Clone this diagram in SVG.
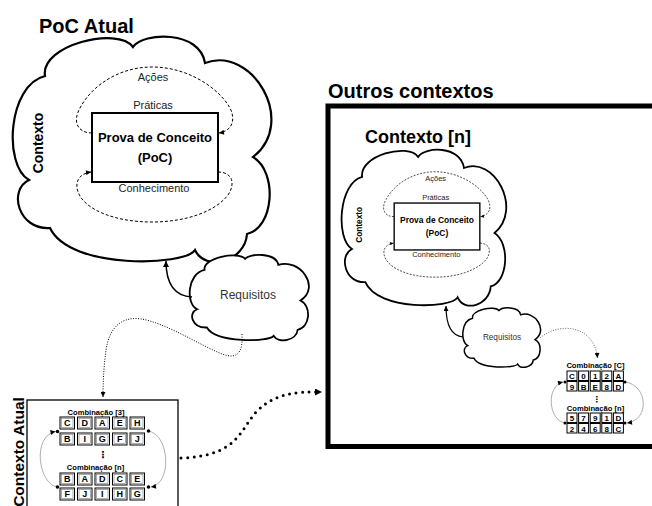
<svg xmlns="http://www.w3.org/2000/svg" width="652" height="506" viewBox="0 0 652 506">
  <style>
    text { font-family: "Liberation Sans", Arial, sans-serif; fill: #000; }
    .title { font-size: 20px; font-weight: bold; }
    .cloud { fill: #fff; stroke: #000; }
    .poc-box { fill: #fff; stroke: #000; stroke-width: 2; }
    .loop { fill: none; stroke: #000; stroke-width: 1; stroke-dasharray: 3 2; }
    .loop-lbl { font-size: 11px; fill: #222; text-anchor: middle; }
    .poc-lbl { font-size: 13px; font-weight: bold; text-anchor: middle; }
    .ctx-lbl { font-size: 14px; font-weight: bold; text-anchor: middle; }
    .req-lbl { font-size: 12px; fill: #333; text-anchor: middle; }
    .frame-thin { fill: #fff; stroke: #000; stroke-width: 1.3; }
    .frame-bold { fill: none; stroke: #000; stroke-width: 5; }
    .comb { font-size: 7.6px; font-weight: bold; text-anchor: middle; }
    .cell { fill: #fff; stroke: #000; stroke-width: 1; }
    .cell-in { fill: none; stroke: #777; stroke-width: 0.6; }
    .cell-a { font-size: 9px; font-weight: bold; text-anchor: middle; }
    .cell-b { font-size: 8px; font-weight: bold; text-anchor: middle; }
    .vdots { font-family: "DejaVu Sans", sans-serif; font-size: 10px; font-weight: bold; text-anchor: middle; }
    .link { fill: none; stroke: #000; stroke-width: 1.5; }
    .dotted-thin { fill: none; stroke: #000; stroke-width: 1; stroke-dasharray: 1 1.5; }
    .dotted-bold { fill: none; stroke: #000; stroke-width: 3; stroke-dasharray: 0 6.6; stroke-linecap: round; }
    .cycle { fill: none; stroke: #9a9a9a; stroke-width: 0.8; }
    .pin { fill: #000; }
  </style>
  <defs>
    <!-- eight-lobed cloud outline, laid out at the size of the large context cloud -->
    <path id="cloudShape" vector-effect="non-scaling-stroke"
          d="M 45 76 C 40 45 118 26 133 47 C 143 32 200 30 205 63 C 252 45 298 122 253 157 C 278 172 274 228 247 234 C 245 262 205 272 195 250 C 185 266 70 270 50 228 C 18 230 8 190 29 180 C 3 165 8 85 45 76 Z"/>
    <marker id="arrowSolid" viewBox="0 0 10 10" refX="10" refY="5" markerWidth="8" markerHeight="6" orient="auto" markerUnits="userSpaceOnUse">
      <path d="M0,0 L10,5 L0,10 z" fill="#000"/>
    </marker>
    <marker id="arrowLoop" viewBox="0 0 10 10" refX="10" refY="5" markerWidth="7" markerHeight="5" orient="auto" markerUnits="userSpaceOnUse">
      <path d="M0,0 L10,5 L0,10 z" fill="#000"/>
    </marker>
    <marker id="arrowBold" viewBox="0 0 10 10" refX="10" refY="5" markerWidth="9" markerHeight="7" orient="auto" markerUnits="userSpaceOnUse">
      <path d="M0,0 L10,5 L0,10 z" fill="#000"/>
    </marker>
    <marker id="arrowSmall" viewBox="0 0 10 10" refX="10" refY="5" markerWidth="7" markerHeight="5" orient="auto" markerUnits="userSpaceOnUse">
      <path d="M0,0 L10,5 L0,10 z" fill="#000"/>
    </marker>
    <!-- inner content of a context: PoC box and the two feedback loops -->
    <g id="pocCore">
      <path class="loop" marker-end="url(#arrowLoop)" d="M 92 133 C 78 133 72 122 80 108 C 92 85 120 67 152 67 C 190 67 220 90 230 108 C 236 120 232 131 219 133"/>
      <path class="loop" marker-end="url(#arrowLoop)" d="M 218 172 C 232 172 236 183 228 195 C 215 212 185 222 152 222 C 115 222 88 210 80 196 C 74 186 76 174 91 172"/>
      <rect class="poc-box" x="92" y="113" width="126" height="69"/>
    </g>
  </defs>

  <!-- titles -->
  <text class="title" x="39" y="33">PoC Atual</text>
  <text class="title" x="328" y="98">Outros contextos</text>

  <!-- current PoC inside its context cloud -->
  <g id="poc-atual">
    <use href="#cloudShape" class="cloud" stroke-width="2.2"/>
    <use href="#pocCore"/>
    <text class="loop-lbl" x="153" y="81">Ações</text>
    <text class="loop-lbl" x="153" y="109">Práticas</text>
    <text class="loop-lbl" x="154" y="192">Conhecimento</text>
    <text class="poc-lbl" x="155" y="142">Prova de Conceito</text>
    <text class="poc-lbl" x="155" y="162">(PoC)</text>
    <text class="ctx-lbl" transform="translate(43,143) rotate(-90)">Contexto</text>
  </g>

  <!-- requirements of the current PoC -->
  <g id="requisitos">
    <use href="#cloudShape" class="cloud" stroke-width="1.8" transform="translate(190,255) scale(0.4609,0.3795) translate(-13.4,-37)"/>
    <text class="req-lbl" x="248" y="299">Requisitos</text>
  </g>

  <!-- current context: combinations -->
  <g id="contexto-atual">
    <rect class="frame-thin" x="27" y="400" width="151" height="120"/>
    <text transform="translate(23.5,452) rotate(-90)" style="font-size:15.5px;font-weight:bold;text-anchor:middle">Contexto Atual</text>
    <text class="comb" x="96" y="414.5">Combinação [3]</text>
    <g>
      <rect class="cell" x="60" y="417" width="14.5" height="12"/><rect class="cell-in" x="61.5" y="418.5" width="11.5" height="9"/>
      <rect class="cell" x="77.5" y="417" width="14.5" height="12"/><rect class="cell-in" x="79" y="418.5" width="11.5" height="9"/>
      <rect class="cell" x="95" y="417" width="14.5" height="12"/><rect class="cell-in" x="96.5" y="418.5" width="11.5" height="9"/>
      <rect class="cell" x="112.5" y="417" width="14.5" height="12"/><rect class="cell-in" x="114" y="418.5" width="11.5" height="9"/>
      <rect class="cell" x="130" y="417" width="14.5" height="12"/><rect class="cell-in" x="131.5" y="418.5" width="11.5" height="9"/>
      <text class="cell-a" x="67.25" y="426.2">C</text><text class="cell-a" x="84.75" y="426.2">D</text><text class="cell-a" x="102.25" y="426.2">A</text><text class="cell-a" x="119.75" y="426.2">E</text><text class="cell-a" x="137.25" y="426.2">H</text>
    </g>
    <g>
      <rect class="cell" x="60" y="433" width="14.5" height="12"/><rect class="cell-in" x="61.5" y="434.5" width="11.5" height="9"/>
      <rect class="cell" x="77.5" y="433" width="14.5" height="12"/><rect class="cell-in" x="79" y="434.5" width="11.5" height="9"/>
      <rect class="cell" x="95" y="433" width="14.5" height="12"/><rect class="cell-in" x="96.5" y="434.5" width="11.5" height="9"/>
      <rect class="cell" x="112.5" y="433" width="14.5" height="12"/><rect class="cell-in" x="114" y="434.5" width="11.5" height="9"/>
      <rect class="cell" x="130" y="433" width="14.5" height="12"/><rect class="cell-in" x="131.5" y="434.5" width="11.5" height="9"/>
      <text class="cell-a" x="67.25" y="442.2">B</text><text class="cell-a" x="84.75" y="442.2">I</text><text class="cell-a" x="102.25" y="442.2">G</text><text class="cell-a" x="119.75" y="442.2">F</text><text class="cell-a" x="137.25" y="442.2">J</text>
    </g>
    <text class="vdots" x="103" y="458">⋮</text>
    <text class="comb" x="95.5" y="469.5">Combinação [n]</text>
    <g>
      <rect class="cell" x="60" y="473" width="14.5" height="12"/><rect class="cell-in" x="61.5" y="474.5" width="11.5" height="9"/>
      <rect class="cell" x="77.5" y="473" width="14.5" height="12"/><rect class="cell-in" x="79" y="474.5" width="11.5" height="9"/>
      <rect class="cell" x="95" y="473" width="14.5" height="12"/><rect class="cell-in" x="96.5" y="474.5" width="11.5" height="9"/>
      <rect class="cell" x="112.5" y="473" width="14.5" height="12"/><rect class="cell-in" x="114" y="474.5" width="11.5" height="9"/>
      <rect class="cell" x="130" y="473" width="14.5" height="12"/><rect class="cell-in" x="131.5" y="474.5" width="11.5" height="9"/>
      <text class="cell-a" x="67.25" y="482.2">B</text><text class="cell-a" x="84.75" y="482.2">A</text><text class="cell-a" x="102.25" y="482.2">D</text><text class="cell-a" x="119.75" y="482.2">C</text><text class="cell-a" x="137.25" y="482.2">E</text>
    </g>
    <g>
      <rect class="cell" x="60" y="488" width="14.5" height="12"/><rect class="cell-in" x="61.5" y="489.5" width="11.5" height="9"/>
      <rect class="cell" x="77.5" y="488" width="14.5" height="12"/><rect class="cell-in" x="79" y="489.5" width="11.5" height="9"/>
      <rect class="cell" x="95" y="488" width="14.5" height="12"/><rect class="cell-in" x="96.5" y="489.5" width="11.5" height="9"/>
      <rect class="cell" x="112.5" y="488" width="14.5" height="12"/><rect class="cell-in" x="114" y="489.5" width="11.5" height="9"/>
      <rect class="cell" x="130" y="488" width="14.5" height="12"/><rect class="cell-in" x="131.5" y="489.5" width="11.5" height="9"/>
      <text class="cell-a" x="67.25" y="497.2">F</text><text class="cell-a" x="84.75" y="497.2">J</text><text class="cell-a" x="102.25" y="497.2">I</text><text class="cell-a" x="119.75" y="497.2">H</text><text class="cell-a" x="137.25" y="497.2">G</text>
    </g>
  </g>

  <!-- other contexts frame -->
  <g id="outros-contextos">
    <rect class="frame-bold" x="328" y="106" width="400" height="340.5"/>
    <text x="365" y="143" style="font-size:18px;font-weight:bold">Contexto [n]</text>
  </g>

  <!-- context n: same structure, smaller -->
  <g id="contexto-n">
    <use href="#cloudShape" class="cloud" stroke-width="1.8" transform="translate(342,150) scale(0.6367,0.692) translate(-13.4,-37)"/>
    <g transform="translate(437,226.5) scale(0.68) translate(-155,-147.5)">
      <use href="#pocCore"/>
      <text class="loop-lbl" x="153" y="81">Ações</text>
      <text class="loop-lbl" x="153" y="109">Práticas</text>
      <text class="loop-lbl" x="154" y="192">Conhecimento</text>
      <text class="poc-lbl" x="155" y="142" style="font-size:12.4px">Prova de Conceito</text>
      <text class="poc-lbl" x="155" y="162" style="font-size:12.4px">(PoC)</text>
      <text class="ctx-lbl" transform="translate(45,145) rotate(-90)" style="font-size:12.2px">Contexto</text>
    </g>
  </g>

  <g id="requisitos-n">
    <use href="#cloudShape" class="cloud" stroke-width="1.5" transform="translate(463,308) scale(0.3008,0.2634) translate(-13.4,-37)"/>
    <text class="req-lbl" x="502" y="340" style="font-size:8.2px">Requisitos</text>
  </g>

  <!-- combinations of context n -->
  <g id="combinacoes-n">
    <text class="comb" x="595.5" y="367.5">Combinação [C]</text>
    <g>
      <rect class="cell" x="567" y="371" width="10" height="9.5"/><rect class="cell" x="578.6" y="371" width="10" height="9.5"/><rect class="cell" x="590.2" y="371" width="10" height="9.5"/><rect class="cell" x="601.8" y="371" width="10" height="9.5"/><rect class="cell" x="613.4" y="371" width="10" height="9.5"/>
      <text class="cell-b" x="572" y="379">C</text><text class="cell-b" x="583.6" y="379">0</text><text class="cell-b" x="595.2" y="379">1</text><text class="cell-b" x="606.8" y="379">2</text><text class="cell-b" x="618.4" y="379">A</text>
    </g>
    <g>
      <rect class="cell" x="567" y="381.5" width="10" height="9.5"/><rect class="cell" x="578.6" y="381.5" width="10" height="9.5"/><rect class="cell" x="590.2" y="381.5" width="10" height="9.5"/><rect class="cell" x="601.8" y="381.5" width="10" height="9.5"/><rect class="cell" x="613.4" y="381.5" width="10" height="9.5"/>
      <text class="cell-b" x="572" y="389.5">9</text><text class="cell-b" x="583.6" y="389.5">B</text><text class="cell-b" x="595.2" y="389.5">E</text><text class="cell-b" x="606.8" y="389.5">8</text><text class="cell-b" x="618.4" y="389.5">D</text>
    </g>
    <text class="vdots" x="597" y="401.5" style="font-size:8px">⋮</text>
    <text class="comb" x="595.5" y="411">Combinação [n]</text>
    <g>
      <rect class="cell" x="567" y="413" width="10" height="9.5"/><rect class="cell" x="578.6" y="413" width="10" height="9.5"/><rect class="cell" x="590.2" y="413" width="10" height="9.5"/><rect class="cell" x="601.8" y="413" width="10" height="9.5"/><rect class="cell" x="613.4" y="413" width="10" height="9.5"/>
      <text class="cell-b" x="572" y="421">5</text><text class="cell-b" x="583.6" y="421">7</text><text class="cell-b" x="595.2" y="421">9</text><text class="cell-b" x="606.8" y="421">1</text><text class="cell-b" x="618.4" y="421">D</text>
    </g>
    <g>
      <rect class="cell" x="567" y="423.5" width="10" height="9.5"/><rect class="cell" x="578.6" y="423.5" width="10" height="9.5"/><rect class="cell" x="590.2" y="423.5" width="10" height="9.5"/><rect class="cell" x="601.8" y="423.5" width="10" height="9.5"/><rect class="cell" x="613.4" y="423.5" width="10" height="9.5"/>
      <text class="cell-b" x="572" y="431.5">2</text><text class="cell-b" x="583.6" y="431.5">4</text><text class="cell-b" x="595.2" y="431.5">6</text><text class="cell-b" x="606.8" y="431.5">8</text><text class="cell-b" x="618.4" y="431.5">C</text>
    </g>
  </g>

  <!-- connectors -->
  <g id="connectors">
    <path class="link" marker-end="url(#arrowSolid)" d="M 192 297 C 174 296 166 284 166 261"/>
    <path class="link" style="stroke-width:1.2" marker-end="url(#arrowSmall)" d="M 463 337 C 452 336 446 325 446 306"/>
    <path class="dotted-thin" marker-end="url(#arrowSmall)" d="M 242 334 C 243 352 238 360 222 354 C 200 345 176 329 150 321 C 124 313 110 325 106 350 C 104 365 103 380 103 397"/>
    <path class="dotted-bold" marker-end="url(#arrowBold)" d="M 181 458 C 240 456 240 428 258 410 C 278 392 296 392 322 392"/>
    <path class="dotted-thin" style="stroke:#555;stroke-width:0.9" marker-end="url(#arrowSmall)" d="M 540 338 C 558 322 594 324 597.5 358"/>
    <!-- cycling between combinations -->
    <path class="cycle" marker-end="url(#arrowSmall)" d="M 57.5 487 C 38 484 32 436 55.5 431.5"/>
    <path class="cycle" marker-end="url(#arrowSmall)" d="M 148.5 431 C 170 435 172 484 151 487"/>
    <circle class="pin" cx="57.5" cy="431.5" r="1.8"/><circle class="pin" cx="57.5" cy="487" r="1.8"/>
    <circle class="pin" cx="148.5" cy="431" r="1.8"/><circle class="pin" cx="148.5" cy="487" r="1.8"/>
    <path class="cycle" marker-end="url(#arrowSmall)" d="M 565 423 C 548 420 546 386 563 382"/>
    <path class="cycle" marker-end="url(#arrowSmall)" d="M 625 382 C 648 385 650 420 627 423"/>
    <circle class="pin" cx="565" cy="382" r="1.5"/><circle class="pin" cx="565" cy="423" r="1.5"/>
    <circle class="pin" cx="625" cy="382" r="1.5"/><circle class="pin" cx="625" cy="423" r="1.5"/>
  </g>
</svg>
